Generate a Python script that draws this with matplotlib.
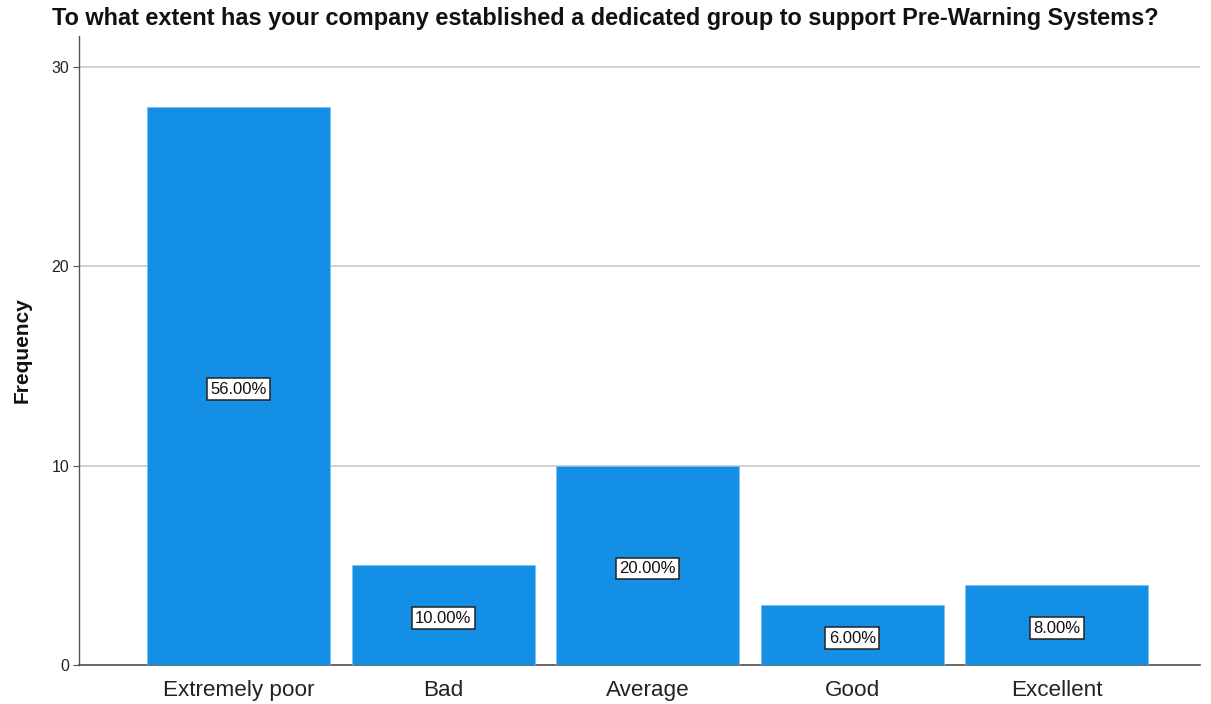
import matplotlib
matplotlib.use("Agg")
import matplotlib.pyplot as plt

categories = ["Extremely poor", "Bad", "Average", "Good", "Excellent"]
frequency = [28, 5, 10, 3, 4]
percent_labels = ["56.00%", "10.00%", "20.00%", "6.00%", "8.00%"]
y_ticks = [0, 10, 20, 30]

plt.rcParams["font.family"] = ["Liberation Sans", "DejaVu Sans"]

fig = plt.figure(figsize=(12.11, 7.04), dpi=100)
ax = fig.add_axes([79 / 1211, 1 - 665 / 704, 1121 / 1211, 629 / 704])

x = list(range(len(categories)))
ax.bar(x, frequency, width=0.895, color="#1390e6", edgecolor="#7cc0f0",
       linewidth=0.6, zorder=3)

# percentage boxes centred on each bar
for xi, val, lab in zip(x, frequency, percent_labels):
    ax.annotate(lab, xy=(xi, val / 2), xytext=(0, -2.2), textcoords="offset points",
                ha="center", va="center", fontsize=12, color="#111111", zorder=5,
                bbox=dict(boxstyle="square,pad=0.2", facecolor="white",
                          edgecolor="#222222", linewidth=1.1))

ax.set_xlim(-0.78, 4.70)
ax.set_ylim(0, 31.56)
ax.set_yticks(y_ticks)
ax.set_yticklabels([str(t) for t in y_ticks], fontsize=11.5, color="#222222")
ax.set_xticks(x)
ax.set_xticklabels(categories, fontsize=16.2, color="#222222")
ax.tick_params(axis="x", length=0, pad=11)
ax.tick_params(axis="y", length=4, width=0.8, color="#555555", pad=3)

ax.yaxis.grid(True, color="#c8c8c8", linewidth=1.2, zorder=0)
ax.set_axisbelow(True)

for side in ["top", "right"]:
    ax.spines[side].set_visible(False)
ax.spines["left"].set_color("#555555")
ax.spines["bottom"].set_color("#555555")
ax.spines["left"].set_linewidth(1.0)
ax.spines["bottom"].set_linewidth(1.2)

ax.set_ylabel("Frequency", fontsize=15, fontweight="bold", color="#111111", labelpad=14)

fig.text(0.5, 1 - 18 / 704, "To what extent has your company established a dedicated group to support Pre-Warning Systems?",
         ha="center", va="center", fontsize=16.9, fontweight="bold", color="#111111")

fig.savefig("out.png", dpi=100, facecolor="white")
